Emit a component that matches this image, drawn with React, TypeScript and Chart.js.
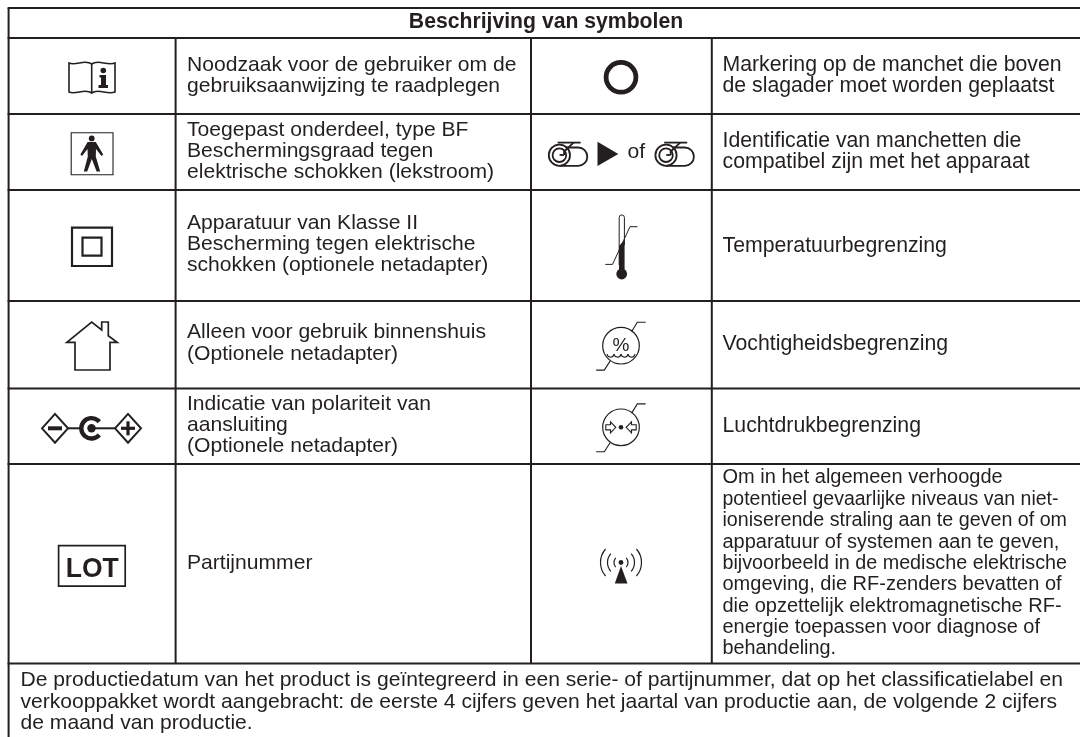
import React, { useEffect, useRef } from "react";
import { Chart, registerables } from "chart.js";

Chart.register(...registerables);

const titleText = "Beschrijving van symbolen";

const leftDescriptions = [
  ["Noodzaak voor de gebruiker om de", "gebruiksaanwijzing te raadplegen"],
  ["Toegepast onderdeel, type BF", "Beschermingsgraad tegen", "elektrische schokken (lekstroom)"],
  ["Apparatuur van Klasse II", "Bescherming tegen elektrische", "schokken (optionele netadapter)"],
  ["Alleen voor gebruik binnenshuis", "(Optionele netadapter)"],
  ["Indicatie van polariteit van", "aansluiting", "(Optionele netadapter)"],
  ["Partijnummer"],
];

const rightDescriptions = [
  ["Markering op de manchet die boven", "de slagader moet worden geplaatst"],
  ["Identificatie van manchetten die", "compatibel zijn met het apparaat"],
  ["Temperatuurbegrenzing"],
  ["Vochtigheidsbegrenzing"],
  ["Luchtdrukbegrenzing"],
];

const radiationDescription = [
  "Om in het algemeen verhoogde",
  "potentieel gevaarlijke niveaus van niet-",
  "ioniserende straling aan te geven of om",
  "apparatuur of systemen aan te geven,",
  "bijvoorbeeld in de medische elektrische",
  "omgeving, die RF-zenders bevatten of",
  "die opzettelijk elektromagnetische RF-",
  "energie toepassen voor diagnose of",
  "behandeling.",
];

const footerLines = [
  "De productiedatum van het product is geïntegreerd in een serie- of partijnummer, dat op het classificatielabel en",
  "verkooppakket wordt aangebracht: de eerste 4 cijfers geven het jaartal van productie aan, de volgende 2 cijfers",
  "de maand van productie.",
];

const leftBaselines = [71, 92, 135.5, 156.5, 177.5, 228.5, 249.5, 271, 338, 359.5, 410, 431, 452, 568.5];
const rightBaselines = [71, 92, 146.5, 168, 251.5, 349.5, 432];
const radiationBaselines = [483, 504.5, 526, 547.5, 568.5, 590, 611.5, 633, 654];
const radiationWidths = [280.5, 336, 344.5, 337.5, 344.5, 339.5, 340.5, 317.5, 113.5];
const footerBaselines = [686, 707.5, 728.5];

const rowRuleY = [8, 38, 114, 190, 301, 388.5, 464, 663.5];
const innerColumnX = [175.6, 531, 711.8];
const tableLeft = 8.6;
const tableRight = 1080;
const tableBottom = 737;

const INK = "#231f20";
const FONT = '"Liberation Sans", Arial, sans-serif';
const LEFT_SIZE = 21.1;
const RIGHT_SIZE = 21.25;
const TITLE_SIZE = 21.2;
const RADIATION_SIZE = 20;

const ruleDatasets = [
  ...rowRuleY.map((y) => ({ data: [{ x: tableLeft - 1, y }, { x: tableRight, y }] })),
  { data: [{ x: tableLeft, y: rowRuleY[0] }, { x: tableLeft, y: tableBottom }] },
  ...innerColumnX.map((x) => ({ data: [{ x, y: rowRuleY[1] }, { x, y: rowRuleY[7] }] })),
].map((d) => ({
  ...d,
  showLine: true,
  pointRadius: 0,
  borderColor: INK,
  borderWidth: 2,
}));

const tablePlugin = {
  id: "symbolTable",
  afterDatasetsDraw(chart: any) {
    const { ctx, scales } = chart;
    const X = (v: number) => scales.x.getPixelForValue(v);
    const Y = (v: number) => scales.y.getPixelForValue(v);

    const stroke = (pts: number[][], lw = 1.2, close = false) => {
      ctx.beginPath();
      pts.forEach(([x, y], i) => (i ? ctx.lineTo(X(x), Y(y)) : ctx.moveTo(X(x), Y(y))));
      if (close) ctx.closePath();
      ctx.lineWidth = lw;
      ctx.stroke();
    };
    const fill = (pts: number[][]) => {
      ctx.beginPath();
      pts.forEach(([x, y], i) => (i ? ctx.lineTo(X(x), Y(y)) : ctx.moveTo(X(x), Y(y))));
      ctx.closePath();
      ctx.fill();
    };
    const circle = (x: number, y: number, r: number, lw?: number) => {
      ctx.beginPath();
      ctx.arc(X(x), Y(y), r, 0, Math.PI * 2);
      if (lw) {
        ctx.lineWidth = lw;
        ctx.stroke();
      } else ctx.fill();
    };
    const text = (s: string, x: number, y: number, font: string, align = "left", maxWidth?: number) => {
      ctx.font = font;
      ctx.textAlign = align;
      ctx.textBaseline = "alphabetic";
      if (maxWidth) ctx.fillText(s, X(x), Y(y), maxWidth);
      else ctx.fillText(s, X(x), Y(y));
    };

    ctx.save();
    ctx.fillStyle = INK;
    ctx.strokeStyle = INK;
    ctx.lineJoin = "miter";

    // Text
    const left = `${LEFT_SIZE}px ${FONT}`;
    const right = `${RIGHT_SIZE}px ${FONT}`;
    text(titleText, 546, 28, `bold ${TITLE_SIZE}px ${FONT}`, "center");
    leftDescriptions.flat().forEach((s, i) => text(s, 187, leftBaselines[i], left));
    rightDescriptions.flat().forEach((s, i) => text(s, 722.5, rightBaselines[i], right));
    radiationDescription.forEach((s, i) =>
      text(s, 722.5, radiationBaselines[i], `${RADIATION_SIZE}px ${FONT}`, "left", radiationWidths[i])
    );
    footerLines.forEach((s, i) => text(s, 20.5, footerBaselines[i], left));

    // Book with "i"
    ctx.beginPath();
    ctx.moveTo(X(91.7), Y(64));
    ctx.bezierCurveTo(X(85), Y(59), X(76), Y(66), X(69), Y(63));
    ctx.lineTo(X(69), Y(92));
    ctx.bezierCurveTo(X(76), Y(95), X(85), Y(88), X(91.7), Y(93));
    ctx.bezierCurveTo(X(98), Y(88), X(107), Y(95), X(115), Y(92));
    ctx.lineTo(X(115), Y(63));
    ctx.bezierCurveTo(X(107), Y(66), X(98), Y(59), X(91.7), Y(64));
    ctx.lineTo(X(91.7), Y(93));
    ctx.lineWidth = 1.6;
    ctx.stroke();
    circle(103.3, 70.5, 2.8);
    fill([[99.5, 75], [106, 75], [106, 85], [108, 85], [108, 88], [98.5, 88], [98.5, 85], [101, 85], [101, 77.5], [99.5, 77.5]]);

    // Type BF applied part
    stroke([[71.2, 132.8], [113, 132.8], [113, 174.8], [71.2, 174.8]], 1.1, true);
    circle(91.7, 138.4, 2.9);
    fill([
      [87.6, 142], [95.8, 142], [103.2, 154.6], [101.5, 156], [96, 149], [95.8, 156.5], [100.2, 171.5],
      [96.6, 171.5], [91.8, 159], [87.2, 171.5], [83.8, 171.5], [87.8, 156.5], [87.5, 149], [82, 156], [80.4, 154.6],
    ]);

    // Class II
    stroke([[72, 227.6], [112, 227.6], [112, 266], [72, 266]], 2.2, true);
    stroke([[82.5, 237.6], [101.5, 237.6], [101.5, 255.6], [82.5, 255.6]], 2.2, true);

    // Indoor use
    stroke([[75, 342.3], [66.8, 342.3], [91.7, 322], [101.7, 330], [101.7, 322], [108.3, 322], [108.3, 335.7], [117.2, 342.3], [110, 342.3], [110, 370], [75, 370]], 1.7, true);

    // Polarity
    const py = 428.3;
    stroke([[42, py], [55, py - 14.4], [68, py], [55, py + 14.4]], 2, true);
    stroke([[115, py], [128, py - 14.4], [141, py], [128, py + 14.4]], 2, true);
    fill([[48, py - 2], [62, py - 2], [62, py + 2], [48, py + 2]]);
    fill([[121, py - 1.6], [135, py - 1.6], [135, py + 1.6], [121, py + 1.6]]);
    fill([[126.4, py - 7], [129.6, py - 7], [129.6, py + 7], [126.4, py + 7]]);
    stroke([[68, py], [80, py]], 2);
    stroke([[91, py], [115, py]], 2);
    ctx.beginPath();
    ctx.arc(X(91.5), Y(py), 10.2, 0.7, Math.PI * 2 - 0.7);
    ctx.lineWidth = 4.4;
    ctx.stroke();
    circle(91.5, py, 4.2);

    // Artery mark
    circle(621, 77.3, 14.9, 4.8);

    // Cuffs
    const cuff = (ox: number) => {
      circle(ox + 10.8, 155.2, 10.6, 1.8);
      circle(ox + 10.8, 155.2, 6.8, 1.8);
      stroke([[ox + 9, 142.6], [ox + 32, 142.6]], 1.8);
      stroke([[ox + 25, 142.6], [ox + 15.5, 151.5], [ox + 15.5, 155]], 1.8);
      stroke([[ox + 11, 155], [ox + 15.5, 155]], 1.8);
      ctx.beginPath();
      ctx.moveTo(X(ox + 17), Y(147.5));
      ctx.lineTo(X(ox + 29.5), Y(147.5));
      ctx.arc(X(ox + 29.5), Y(156.7), 9.2, -Math.PI / 2, Math.PI / 2);
      ctx.lineTo(X(ox + 10.8), Y(165.9));
      ctx.lineWidth = 1.8;
      ctx.stroke();
    };
    cuff(548.6);
    fill([[597.5, 141.8], [618.3, 154], [597.5, 166]]);
    text("of", 627.6, 158.3, left);
    cuff(655.2);

    // Temperature
    ctx.beginPath();
    ctx.moveTo(X(619.2), Y(265));
    ctx.lineTo(X(619.2), Y(217.5));
    ctx.arc(X(621.8), Y(217.5), 2.6, Math.PI, 0);
    ctx.lineTo(X(624.4), Y(245));
    ctx.lineWidth = 1;
    ctx.stroke();
    fill([[619, 246], [624.6, 240], [624.6, 270], [619, 270]]);
    circle(621.7, 274, 5.4);
    stroke([[637.5, 226.7], [630, 226.7], [612.5, 264.4], [605.3, 264.4]], 1);

    // Humidity
    const hooks = (cy: number) => {
      circle(621, cy, 18.3, 1.2);
      stroke([[645.7, cy - 23.4], [637.3, cy - 23.4], [631.7, cy - 14.2]], 1.1);
      stroke([[596.2, cy + 24.4], [604.3, cy + 24.4], [610.2, cy + 15.2]], 1.1);
    };
    hooks(345.7);
    text("%", 621, 351, `19px ${FONT}`, "center");
    ctx.lineWidth = 1.1;
    [-10.5, -3.5, 3.5, 10.5].forEach((dx) => {
      ctx.beginPath();
      ctx.arc(X(621 + dx), Y(353.6), 3.5, 0.15, Math.PI - 0.15);
      ctx.stroke();
    });

    // Atmospheric pressure
    hooks(427.3);
    circle(621, 427.3, 2.3);
    const cy = 427.3;
    stroke([[605.8, cy - 2.6], [610.5, cy - 2.6], [610.5, cy - 5.5], [615.8, cy], [610.5, cy + 5.5], [610.5, cy + 2.6], [605.8, cy + 2.6]], 1.1, true);
    stroke([[636.2, cy - 2.6], [631.5, cy - 2.6], [631.5, cy - 5.5], [626.2, cy], [631.5, cy + 5.5], [631.5, cy + 2.6], [636.2, cy + 2.6]], 1.1, true);

    // LOT
    stroke([[58.6, 545.6], [125.2, 545.6], [125.2, 586.2], [58.6, 586.2]], 1.7, true);
    text("LOT", 92.3, 576.7, `bold 28px ${FONT}`, "center", 53);

    // Non-ionizing radiation
    circle(621, 562.5, 2.4);
    fill([[621, 566], [627.5, 583.5], [614.8, 583.5]]);
    ctx.lineWidth = 1.2;
    [7, 13.5, 20.5].forEach((r) => {
      const a = 0.72;
      ctx.beginPath();
      ctx.arc(X(621), Y(562.5), r, -a, a);
      ctx.stroke();
      ctx.beginPath();
      ctx.arc(X(621), Y(562.5), r, Math.PI - a, Math.PI + a);
      ctx.stroke();
    });

    ctx.restore();
  },
};

export default function App() {
  const ref = useRef<HTMLCanvasElement | null>(null);
  useEffect(() => {
    document.body.style.margin = "0";
    const chart = new Chart(ref.current as HTMLCanvasElement, {
      type: "scatter",
      data: { datasets: ruleDatasets as any },
      options: {
        responsive: false,
        animation: false,
        layout: { padding: 0 },
        plugins: { legend: { display: false }, tooltip: { enabled: false }, title: { display: false } },
        scales: {
          x: { type: "linear", min: 0, max: 1080, display: false },
          y: { type: "linear", min: 0, max: 737, reverse: true, display: false },
        },
      },
      plugins: [tablePlugin],
    } as any);
    return () => chart.destroy();
  }, []);
  return <canvas ref={ref} width={1080} height={737} style={{ display: "block" }} />;
}
